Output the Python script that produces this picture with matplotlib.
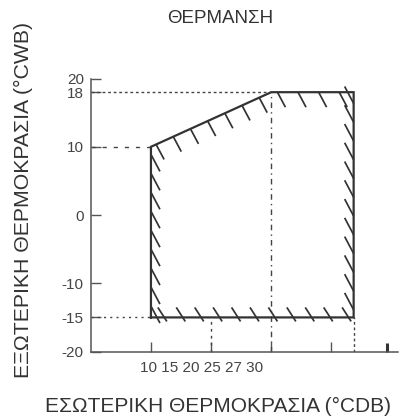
import matplotlib.pyplot as plt
import numpy as np
from matplotlib.collections import LineCollection

plt.rcParams['font.family'] = ['Liberation Sans', 'DejaVu Sans']

# operating envelope (outdoor wb vs indoor db, drawn on the sketch's own scale)
env_x = [10, 10, 30, 43.7, 43.7, 10]
env_y = [-15, 10, 18, 18, -15, -15]

y_ticks = [-20, -15, -10, 0, 10, 18, 20]
x_ticks = [10, 20, 30, 40]
x_end_tick = 49.3
x_labels = ['10', '15', '20', '25', '27', '30']

title = 'ΘΕΡΜΑΝΣΗ'
xlabel = 'ΕΣΩΤΕΡΙΚΗ ΘΕΡΜΟΚΡΑΣΙΑ (°CDB)'
ylabel = 'ΕΞΩΤΕΡΙΚΗ ΘΕΡΜΟΚΡΑΣΙΑ (°CWB)'

ink = '#333333'
axis_col = '#555555'

fig = plt.figure(figsize=(4.09, 4.20), dpi=100)
ax = fig.add_axes([0.222, 0.163, 0.75, 0.650])
ax.set_xlim(0, 51)
ax.set_ylim(-20, 20)

for s in ['top', 'right']:
    ax.spines[s].set_visible(False)
for s in ['left', 'bottom']:
    ax.spines[s].set_color(axis_col)
    ax.spines[s].set_linewidth(1.1)

ax.set_yticks(y_ticks)
ax.set_yticklabels([str(v) for v in y_ticks])
ax.tick_params(axis='y', direction='in', length=7, width=1, color=axis_col,
               labelsize=11, labelcolor='#444444', pad=5)
ax.set_xticks(x_ticks)
ax.set_xticklabels([])
ax.tick_params(axis='x', direction='in', length=7, width=1, color=axis_col)
ax.plot([x_end_tick, x_end_tick], [-20, -20 + 1.3], color=ink, lw=2.2,
        solid_capstyle='butt', clip_on=False)

# tick label row sits clustered under the left part
ax.text(8.2, -22.4, ' '.join(x_labels), fontsize=11, color='#444444',
        ha='left', va='center', clip_on=False)

# guide lines
gc = '#444444'
ax.plot([0, 30], [18, 18], color=gc, lw=1, ls=(0, (2, 2)))
ax.plot([0, 10], [10, 10], color=gc, lw=1, ls=(0, (3, 5)))
ax.plot([0, 10], [-15, -15], color=gc, lw=1, ls=(0, (1.5, 3)))
ax.plot([30, 30], [-20, 18], color=gc, lw=1, ls=(0, (4, 3, 1, 3)))
ax.plot([20, 20], [-20, -15], color=gc, lw=1, ls=(0, (2, 3)))
ax.plot([43.7, 43.7], [-20, -15], color=gc, lw=1, ls=(0, (2, 2)))

# envelope outline
ax.plot(env_x, env_y, color=ink, lw=1.6, solid_joinstyle='miter')

# hatch ticks along the envelope, computed in pixel space
fig.canvas.draw()
pts = ax.transData.transform(np.column_stack([env_x, env_y]))
inv = ax.transData.inverted()
segs = []
spacing = 18.5
# per edge: offsets of tick start/end relative to the point on the edge (px)
offsets = [((0, 0), (9, -17)),      # left edge, going up
           ((0, 0), (8, -15)),      # sloped top
           ((0, 0), (8, -15)),      # flat top
           ((-9, 17), (0, 0)),      # right edge
           ((-6, 10), (3, -4))]     # bottom edge
for i in range(len(pts) - 1):
    p0, p1 = pts[i], pts[i + 1]
    L = np.hypot(*(p1 - p0))
    n = max(int(round(L / spacing)), 1)
    a, b = offsets[i]
    for k in range(n):
        t = (k + 0.6) / n if i in (0, 3) else (k + 0.3) / n
        q = p0 + (p1 - p0) * t
        s0 = inv.transform(q + np.array(a))
        s1 = inv.transform(q + np.array(b))
        segs.append([s0, s1])
ax.add_collection(LineCollection(segs, colors=ink, linewidths=1.25))

fig.text(0.538, 0.957, title, ha='center', va='center', fontsize=13.5, color='#333333')
fig.text(0.533, 0.032, xlabel, ha='center', va='center', fontsize=15, color='#333333')
fig.text(0.058, 0.523, ylabel, ha='center', va='center', rotation=90, fontsize=15.3,
         color='#333333')

fig.savefig('out.png', dpi=100)
